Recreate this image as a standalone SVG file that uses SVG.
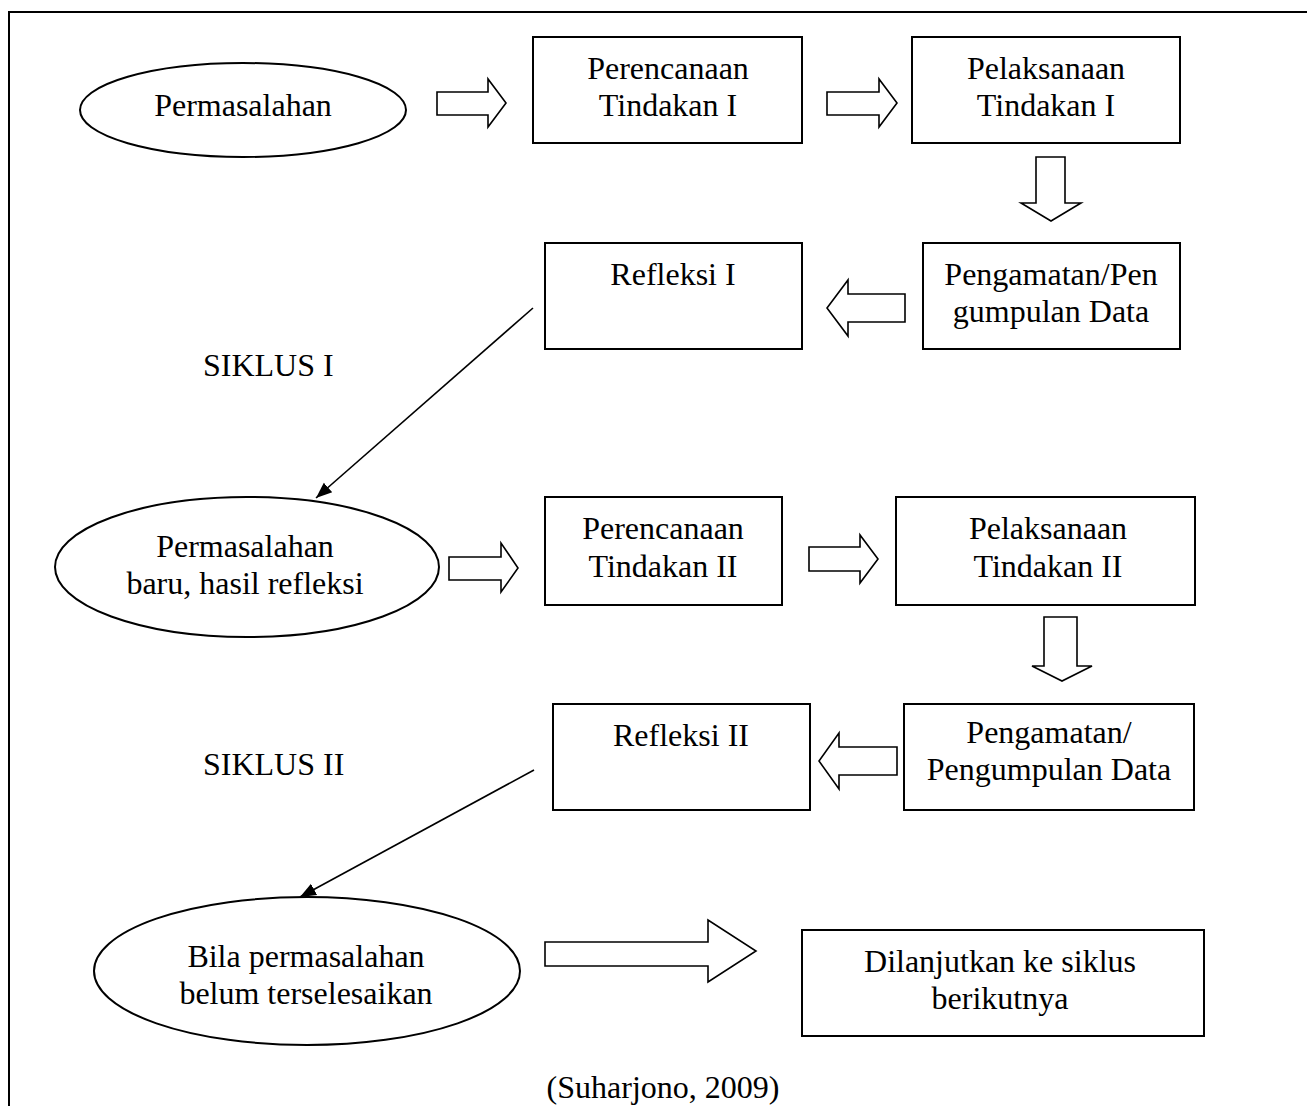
<svg xmlns="http://www.w3.org/2000/svg" width="1307" height="1106" viewBox="0 0 1307 1106">
<style>
.box{fill:#fff;stroke:#000;stroke-width:2}
.ell{fill:#fff;stroke:#000;stroke-width:2}
.blk{fill:#fff;stroke:#000;stroke-width:1.6;stroke-linejoin:miter}
.t{font-family:"Liberation Serif","Times New Roman",serif;font-size:32px;fill:#000;text-anchor:middle}
.tl{font-family:"Liberation Serif","Times New Roman",serif;font-size:32px;fill:#000}
.ln{stroke:#000;stroke-width:1.6;fill:none}
</style>
<defs>
<marker id="ah" viewBox="0 0 10 10" refX="10" refY="5" markerWidth="9" markerHeight="9" markerUnits="userSpaceOnUse" orient="auto">
<path d="M0,0 L10,5 L0,10 z" fill="#000"/>
</marker>
<marker id="ah2" viewBox="0 0 10 10" refX="10" refY="5" markerWidth="16" markerHeight="16" markerUnits="userSpaceOnUse" orient="auto">
<path d="M0,1 L10,5 L0,9 z" fill="#000"/>
</marker>
</defs>
<rect width="1307" height="1106" fill="#fff"/>
<g id="frame">
<path d="M9,1106 L9,12 L1307,12" fill="none" stroke="#000" stroke-width="2"/>
</g>

<g id="connectors">
<polygon class="blk" points="437,92 488,92 488,79 506,103 488,127 488,115 437,115"/>
<polygon class="blk" points="827,92 879,92 879,79 897,103 879,127 879,115 827,115"/>
<polygon class="blk" points="1036,157 1065,157 1065,203 1081,203 1051,221 1021,203 1036,203"/>
<polygon class="blk" points="905,294 848,294 848,280 827,308 848,336 848,322 905,322"/>
<polygon class="blk" points="449,557 501,557 501,543 518,568 501,592 501,580 449,580"/>
<polygon class="blk" points="809,547 860,547 860,535 878,559 860,583 860,571 809,571"/>
<polygon class="blk" points="1044,617 1077,617 1077,666 1092,666 1062,681 1032,666 1044,666"/>
<polygon class="blk" points="897,747 839,747 839,733 819,761 839,789 839,775 897,775"/>
<polygon class="blk" points="545,942 708,942 708,920 756,951 708,982 708,966 545,966"/>
<line class="ln" x1="533" y1="308" x2="316" y2="498" marker-end="url(#ah2)"/>
<line class="ln" x1="534" y1="770" x2="300" y2="897" marker-end="url(#ah2)"/>
</g>

<g id="n-permasalahan">
<ellipse class="ell" cx="243" cy="110" rx="163" ry="47"/>
<text class="t" x="243" y="116">Permasalahan</text>
</g>
<g id="n-perencanaan1">
<rect class="box" x="533" y="37" width="269" height="106"/>
<text class="t" x="668" y="79">Perencanaan</text>
<text class="t" x="668" y="116">Tindakan I</text>
</g>
<g id="n-pelaksanaan1">
<rect class="box" x="912" y="37" width="268" height="106"/>
<text class="t" x="1046" y="79">Pelaksanaan</text>
<text class="t" x="1046" y="116">Tindakan I</text>
</g>
<g id="n-pengamatan1">
<rect class="box" x="923" y="243" width="257" height="106"/>
<text class="t" x="1051" y="285">Pengamatan/Pen</text>
<text class="t" x="1051" y="322">gumpulan Data</text>
</g>
<g id="n-refleksi1">
<rect class="box" x="545" y="243" width="257" height="106"/>
<text class="t" x="673" y="285">Refleksi I</text>
</g>
<g id="l-siklus1">
<text class="tl" x="203" y="376">SIKLUS I</text>
</g>
<g id="n-permasalahan-baru">
<ellipse class="ell" cx="247" cy="567" rx="192" ry="70"/>
<text class="t" x="245" y="557">Permasalahan</text>
<text class="t" x="245" y="594">baru, hasil refleksi</text>
</g>
<g id="n-perencanaan2">
<rect class="box" x="545" y="497" width="237" height="108"/>
<text class="t" x="663" y="539">Perencanaan</text>
<text class="t" x="663" y="577">Tindakan II</text>
</g>
<g id="n-pelaksanaan2">
<rect class="box" x="896" y="497" width="299" height="108"/>
<text class="t" x="1048" y="539">Pelaksanaan</text>
<text class="t" x="1048" y="577">Tindakan II</text>
</g>
<g id="n-pengamatan2">
<rect class="box" x="904" y="704" width="290" height="106"/>
<text class="t" x="1049" y="743">Pengamatan/</text>
<text class="t" x="1049" y="780">Pengumpulan Data</text>
</g>
<g id="n-refleksi2">
<rect class="box" x="553" y="704" width="257" height="106"/>
<text class="t" x="681" y="746">Refleksi II</text>
</g>
<g id="l-siklus2">
<text class="tl" x="203" y="775">SIKLUS II</text>
</g>
<g id="n-bila">
<ellipse class="ell" cx="307" cy="971" rx="213" ry="74"/>
<text class="t" x="306" y="967">Bila permasalahan</text>
<text class="t" x="306" y="1004">belum terselesaikan</text>
</g>
<g id="n-dilanjutkan">
<rect class="box" x="802" y="930" width="402" height="106"/>
<text class="t" x="1000" y="972">Dilanjutkan ke siklus</text>
<text class="t" x="1000" y="1009">berikutnya</text>
</g>
<g id="l-source">
<text class="t" x="663" y="1098">(Suharjono, 2009)</text>
</g>
</svg>
